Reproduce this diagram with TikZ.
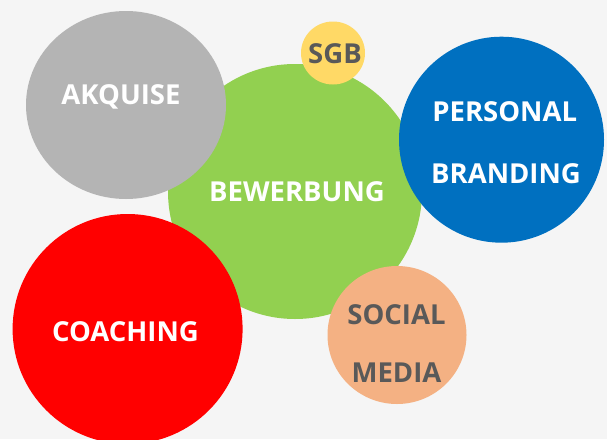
\documentclass[tikz,border=0pt]{standalone}
\usepackage{fontspec}
\setmainfont{Open Sans}
\usetikzlibrary{shapes.geometric}
\definecolor{bg}{HTML}{F5F5F5}
\definecolor{cgrey}{HTML}{B4B4B4}
\definecolor{cgreen}{HTML}{92D050}
\definecolor{cyellow}{HTML}{FFD966}
\definecolor{cblue}{HTML}{0070C0}
\definecolor{cred}{HTML}{FF0000}
\definecolor{cpeach}{HTML}{F4B183}
\definecolor{dtext}{HTML}{595959}
\tikzset{
  bubble/.style={ellipse, inner sep=0pt, draw=none},
  wlabel/.style={anchor=base, inner sep=0pt, text=white, font=\fontsize{27.5}{30}\selectfont\bfseries},
  dlabel/.style={anchor=base, inner sep=0pt, text=dtext, font=\fontsize{27.5}{30}\selectfont\bfseries}
}
\begin{document}
\begin{tikzpicture}[x=1pt, y=-1pt]
\fill[bg] (0,0) rectangle (607,439);
\useasboundingbox (0,0) rectangle (607,439);
% green first (behind)
\node[bubble, fill=cgreen, minimum width=254pt, minimum height=255pt] (bew) at (295,191.5) {};
\node[bubble, fill=cgrey, minimum width=200pt, minimum height=188pt] (akq) at (126,105) {};
\node[bubble, fill=cyellow, minimum width=64pt, minimum height=63pt] (sgb) at (333,53) {};
\node[bubble, fill=cblue, minimum width=205pt, minimum height=206pt] (pb) at (501.5,139.7) {};
\node[bubble, fill=cred, minimum width=230pt, minimum height=230pt] (coa) at (127.6,329) {};
\node[bubble, fill=cpeach, minimum width=139pt, minimum height=138pt] (sm) at (397,335) {};
% labels
\node[wlabel] (takq) at (121,104) {AKQUISE};
\node[wlabel] (tbew) at (297,201.7) {BEWERBUNG};
\node[wlabel] (tpb1) at (504.7,121.7) {PERSONAL};
\node[wlabel] (tpb2) at (506,183) {BRANDING};
\node[wlabel] (tcoa) at (125.5,341.7) {COACHING};
\node[dlabel] (tsgb) at (335,63) {SGB};
\node[dlabel] (tsm1) at (396.5,324) {SOCIAL};
\node[dlabel] (tsm2) at (396.5,382) {MEDIA};
\end{tikzpicture}
\end{document}
